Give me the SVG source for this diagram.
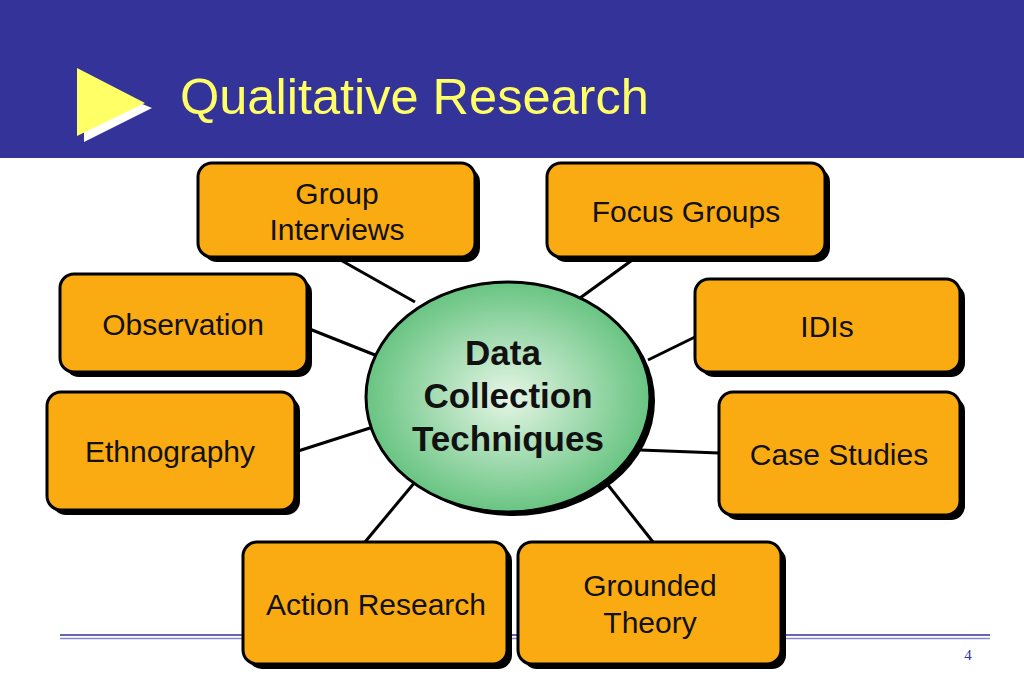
<svg xmlns="http://www.w3.org/2000/svg" width="1024" height="683" viewBox="0 0 1024 683">
<defs>
<radialGradient id="g" cx="50%" cy="50%" r="55%">
<stop offset="0" stop-color="#e6f6e6"/>
<stop offset="1" stop-color="#5cbf78"/>
</radialGradient>
</defs>
<style>
.box{fill:#fbab12;stroke:#000;stroke-width:3}
.sh{fill:#000}
.t{font-family:"Liberation Sans",Arial,sans-serif;font-size:30px;fill:#111;text-anchor:middle}
.ct{font-family:"Liberation Sans",Arial,sans-serif;font-size:35px;font-weight:bold;fill:#111;text-anchor:middle}
.c line{stroke:#000;stroke-width:3}
</style>
<rect x="0" y="0" width="1024" height="158" fill="#343399"/>
<polygon points="84,80 152,108 84,142" fill="#fff"/>
<polygon points="77,68 145,103 77,136" fill="#ffff66"/>
<text x="180" y="114" font-family="Liberation Sans,Arial,sans-serif" font-size="50.5" fill="#ffff66">Qualitative Research</text>
<line x1="60" y1="635" x2="990" y2="635" stroke="#343399" stroke-width="1.5"/>
<line x1="60" y1="638.5" x2="990" y2="638.5" stroke="#8888cc" stroke-width="1.5"/>
<text x="968" y="660" font-family="Liberation Serif,serif" font-size="15" fill="#343399" text-anchor="middle">4</text>
<g class="c">
<line x1="337" y1="258" x2="415" y2="302"/>
<line x1="635" y1="258" x2="580" y2="298"/>
<line x1="307" y1="328" x2="375" y2="355"/>
<line x1="695" y1="337" x2="648" y2="360"/>
<line x1="295" y1="452" x2="370" y2="428"/>
<line x1="719" y1="453" x2="640" y2="450"/>
<line x1="365" y1="542" x2="415" y2="482"/>
<line x1="653" y1="542" x2="608" y2="485"/>
</g>
<g id="center">
<ellipse cx="513" cy="401" rx="142" ry="115" class="sh"/>
<ellipse cx="508" cy="397" rx="142" ry="115" fill="url(#g)" stroke="#000" stroke-width="3"/>
<text x="503" y="365" class="ct">Data</text>
<text x="508" y="408" class="ct">Collection</text>
<text x="508" y="451" class="ct">Techniques</text>
</g>
<g id="group"><rect x="203" y="168" width="277" height="94" rx="14" class="sh"/><rect x="198" y="163" width="277" height="94" rx="14" class="box"/><text x="337" y="204" class="t">Group</text><text x="337" y="240" class="t">Interviews</text></g>
<g id="focus"><rect x="552" y="168" width="278" height="94" rx="14" class="sh"/><rect x="547" y="163" width="278" height="94" rx="14" class="box"/><text x="686" y="222" class="t">Focus Groups</text></g>
<g id="obs"><rect x="65" y="279" width="247" height="98" rx="14" class="sh"/><rect x="60" y="274" width="247" height="98" rx="14" class="box"/><text x="183" y="335" class="t">Observation</text></g>
<g id="idis"><rect x="700" y="284" width="265" height="93" rx="14" class="sh"/><rect x="695" y="279" width="265" height="93" rx="14" class="box"/><text x="827" y="337" class="t">IDIs</text></g>
<g id="eth"><rect x="52" y="397" width="248" height="118" rx="14" class="sh"/><rect x="47" y="392" width="248" height="118" rx="14" class="box"/><text x="170" y="462" class="t">Ethnography</text></g>
<g id="case"><rect x="724" y="397" width="241" height="123" rx="14" class="sh"/><rect x="719" y="392" width="241" height="123" rx="14" class="box"/><text x="839" y="465" class="t">Case Studies</text></g>
<g id="action"><rect x="248" y="547" width="264" height="122" rx="14" class="sh"/><rect x="243" y="542" width="264" height="122" rx="14" class="box"/><text x="376" y="615" class="t">Action Research</text></g>
<g id="grounded"><rect x="523" y="547" width="263" height="122" rx="14" class="sh"/><rect x="518" y="542" width="263" height="122" rx="14" class="box"/><text x="650" y="596" class="t">Grounded</text><text x="650" y="633" class="t">Theory</text></g>
</svg>
